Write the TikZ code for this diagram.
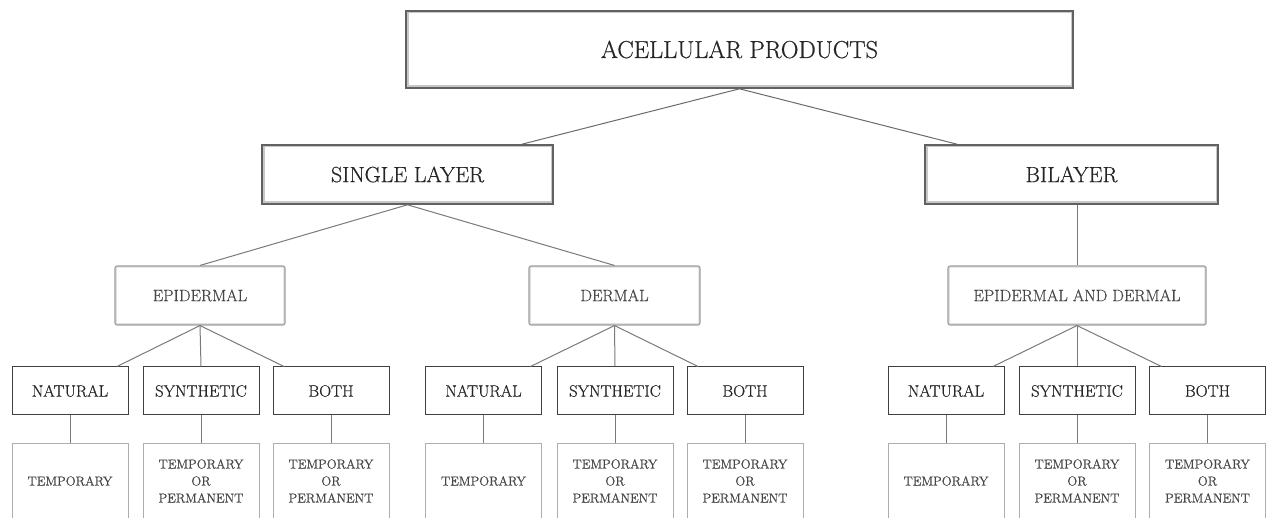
\documentclass[tikz,border=0pt]{standalone}
\usepackage{fontspec}
\setmainfont{Latin Modern Roman}[FakeBold=0.6]
\usetikzlibrary{positioning}
\begin{document}
\begin{tikzpicture}[x=1pt,y=-1pt,
  topbox/.style={draw=black!62, line width=1.6pt, fill=white, inner sep=0pt,
    text=black!85,
    path picture={\draw[black!22,line width=5pt] (path picture bounding box.south west) rectangle (path picture bounding box.north east);}},
  midbox/.style={draw=black!38, line width=1.1pt, fill=white, inner sep=0pt,
    rounded corners=2pt, text=black!72, font=\fontsize{16.5}{18}\selectfont,
    minimum height=59pt,
    path picture={\draw[black!12,line width=3.5pt] (path picture bounding box.south west) rectangle (path picture bounding box.north east);}},
  catbox/.style={draw=black!75, line width=1pt, fill=white, inner sep=0pt,
    text=black!85, font=\fontsize{16.5}{18}\selectfont,
    minimum width=116pt, minimum height=48pt},
  leafbox/.style={draw=black!32, line width=0.9pt, fill=white, inner sep=0pt,
    text=black!72, font=\fontsize{13}{17}\selectfont, align=center,
    minimum width=116pt, minimum height=76pt},
  conn/.style={draw=black!52, line width=1pt},
]
\clip (0,0) rectangle (1267,518);
\useasboundingbox (0,0) rectangle (1267,518);
\fill[white] (0,0) rectangle (1267,518);

% level 1
\node[topbox, minimum width=667pt, minimum height=77pt, font=\fontsize{24.5}{28}\selectfont] (top) at (739.5,49.5) {ACELLULAR PRODUCTS};

% level 2
\node[topbox, minimum width=291pt, minimum height=59pt, font=\fontsize{22}{26}\selectfont] (single) at (407.5,174.5) {SINGLE LAYER};
\node[topbox, minimum width=293pt, minimum height=59pt, font=\fontsize{22}{26}\selectfont] (bil) at (1071.5,174.5) {BILAYER};

% level 3
\node[midbox, minimum width=170pt] (epi) at (200,295.5) {EPIDERMAL};
\node[midbox, minimum width=171pt] (der) at (614.5,295.5) {DERMAL};
\node[midbox, minimum width=258pt] (ead) at (1077,295.5) {EPIDERMAL AND DERMAL};

% level 4
\node[catbox] (n1) at (70,391) {NATURAL};
\node[catbox] (s1) at (201,391) {SYNTHETIC};
\node[catbox] (b1) at (331,391) {BOTH};
\node[catbox] (n2) at (483.5,391) {NATURAL};
\node[catbox] (s2) at (615,391) {SYNTHETIC};
\node[catbox] (b2) at (745,391) {BOTH};
\node[catbox] (n3) at (946,391) {NATURAL};
\node[catbox] (s3) at (1077,391) {SYNTHETIC};
\node[catbox] (b3) at (1207.5,391) {BOTH};

% level 5
\node[leafbox] (tn1) at (70,481) {TEMPORARY};
\node[leafbox] (ts1) at (201,481) {TEMPORARY\\OR\\PERMANENT};
\node[leafbox] (tb1) at (331,481) {TEMPORARY\\OR\\PERMANENT};
\node[leafbox] (tn2) at (483.5,481) {TEMPORARY};
\node[leafbox] (ts2) at (615,481) {TEMPORARY\\OR\\PERMANENT};
\node[leafbox] (tb2) at (745,481) {TEMPORARY\\OR\\PERMANENT};
\node[leafbox] (tn3) at (946,481) {TEMPORARY};
\node[leafbox] (ts3) at (1077,481) {TEMPORARY\\OR\\PERMANENT};
\node[leafbox] (tb3) at (1207.5,481) {TEMPORARY\\OR\\PERMANENT};

% connectors
\draw[conn, black!58] (top.south) -- ([xshift=114.5pt]single.north);
\draw[conn, black!58] (top.south) -- ([xshift=-114.5pt]bil.north);
\draw[conn] (single.south) -- (epi.north);
\draw[conn] (single.south) -- (der.north);
\draw[conn] ([xshift=5.5pt]bil.south) -- (ead.north);

\draw[conn] (epi.south) -- ([xshift=47pt]n1.north);
\draw[conn] (epi.south) -- (s1.north);
\draw[conn] (epi.south) -- ([xshift=-47pt]b1.north);
\draw[conn] (der.south) -- ([xshift=47pt]n2.north);
\draw[conn] (der.south) -- (s2.north);
\draw[conn] (der.south) -- ([xshift=-47pt]b2.north);
\draw[conn] (ead.south) -- ([xshift=47pt]n3.north);
\draw[conn] (ead.south) -- (s3.north);
\draw[conn] (ead.south) -- ([xshift=-46pt]b3.north);

\draw[conn] (n1.south) -- (tn1.north);
\draw[conn] (s1.south) -- (ts1.north);
\draw[conn] (b1.south) -- (tb1.north);
\draw[conn] (n2.south) -- (tn2.north);
\draw[conn] (s2.south) -- (ts2.north);
\draw[conn] (b2.south) -- (tb2.north);
\draw[conn] (n3.south) -- (tn3.north);
\draw[conn] (s3.south) -- (ts3.north);
\draw[conn] (b3.south) -- (tb3.north);
\end{tikzpicture}
\end{document}
